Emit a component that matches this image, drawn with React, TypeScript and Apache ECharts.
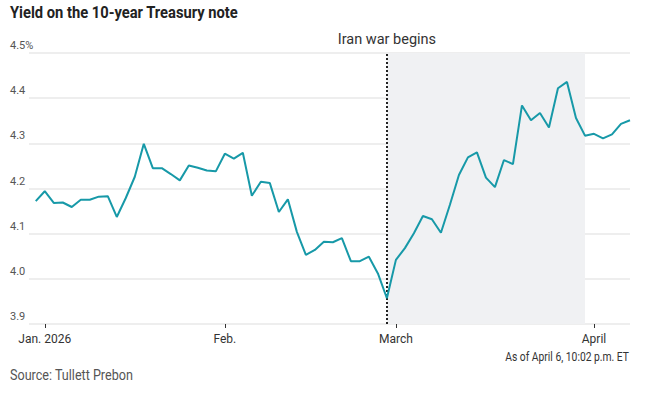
import React, { useEffect, useRef } from "react";
import * as echarts from "echarts";

const FONT = "Roboto, 'Noto Sans', sans-serif";

const TITLE = "Yield on the 10-year Treasury note";
const SOURCE = "Source: Tullett Prebon";
const AS_OF = "As of April 6, 10:02 p.m. ET";
const EVENT_LABEL = "Iran war begins";

// Trading days (the x-axis is spaced by trading day)
const dates: string[] = [
  "2025-12-31",
  "2026-01-02", "2026-01-05", "2026-01-06", "2026-01-07", "2026-01-08", "2026-01-09",
  "2026-01-12", "2026-01-13", "2026-01-14", "2026-01-15", "2026-01-16",
  "2026-01-20", "2026-01-21", "2026-01-22", "2026-01-23",
  "2026-01-26", "2026-01-27", "2026-01-28", "2026-01-29", "2026-01-30",
  "2026-02-02", "2026-02-03", "2026-02-04", "2026-02-05", "2026-02-06",
  "2026-02-09", "2026-02-10", "2026-02-11", "2026-02-12", "2026-02-13",
  "2026-02-17", "2026-02-18", "2026-02-19", "2026-02-20",
  "2026-02-23", "2026-02-24", "2026-02-25", "2026-02-26", "2026-02-27",
  "2026-03-02", "2026-03-03", "2026-03-04", "2026-03-05", "2026-03-06",
  "2026-03-09", "2026-03-10", "2026-03-11", "2026-03-12", "2026-03-13",
  "2026-03-16", "2026-03-17", "2026-03-18", "2026-03-19", "2026-03-20",
  "2026-03-23", "2026-03-24", "2026-03-25", "2026-03-26", "2026-03-27",
  "2026-03-30", "2026-03-31",
  "2026-04-01", "2026-04-02", "2026-04-03", "2026-04-06", "2026-04-06 22:02",
];

// 10-year Treasury yield, %
const yields: number[] = [
  4.172,
  4.194, 4.168, 4.169, 4.159, 4.175, 4.175,
  4.182, 4.183, 4.137, 4.179, 4.226,
  4.299, 4.245, 4.245, 4.232,
  4.218, 4.251, 4.246, 4.240, 4.238,
  4.277, 4.266, 4.279, 4.184, 4.215,
  4.212, 4.148, 4.176, 4.104, 4.053,
  4.064, 4.082, 4.081, 4.090,
  4.039, 4.039, 4.049, 4.012, 3.957,
  4.042, 4.068, 4.101, 4.139, 4.132,
  4.102, 4.164, 4.230, 4.269, 4.280,
  4.224, 4.203, 4.263, 4.254, 4.384,
  4.351, 4.367, 4.335, 4.422, 4.436,
  4.356, 4.317,
  4.321, 4.311, 4.320, 4.343, 4.351,
];

const monthTicks = [
  { date: "2026-01-02", label: "Jan. 2026" },
  { date: "2026-02-02", label: "Feb." },
  { date: "2026-03-02", label: "March" },
  { date: "2026-04-01", label: "April" },
];

const EVENT_START = "2026-02-27";
const SHADE_END = "2026-03-31";

const Y_MIN = 3.9;
const Y_MAX = 4.5;
const Y_STEP = 0.1;

export default function App() {
  const ref = useRef<HTMLDivElement>(null);

  useEffect(() => {
    document.body.style.margin = "0";
    if (!ref.current) return;
    const chart = echarts.init(ref.current, undefined, { renderer: "svg" });

    const tickIdx = monthTicks.map((m) => dates.indexOf(m.date));
    const labelByIdx: Record<number, string> = {};
    monthTicks.forEach((m, i) => (labelByIdx[tickIdx[i]] = m.label));
    const eventIdx = dates.indexOf(EVENT_START);
    const shadeEndIdx = dates.indexOf(SHADE_END);

    chart.setOption({
      animation: false,
      grid: { left: 29, right: 16, top: 53, bottom: 70, containLabel: false },
      xAxis: {
        type: "value",
        min: -0.75,
        max: dates.length - 1,
        axisLine: { show: false },
        splitLine: { show: false },
        axisTick: {
          show: true,
          customValues: tickIdx,
          length: 4,
          lineStyle: { color: "#333", width: 1 },
        },
        axisLabel: {
          customValues: tickIdx,
          formatter: (v: number) => labelByIdx[Math.round(v)] ?? "",
          color: "#333",
          fontSize: 12,
          fontFamily: FONT,
          margin: 9,
        },
      },
      yAxis: {
        type: "value",
        min: Y_MIN,
        max: Y_MAX,
        interval: Y_STEP,
        axisLine: { show: false },
        axisTick: { show: false },
        splitLine: { lineStyle: { color: "#e8e8e8", width: 1.5 } },
        axisLabel: {
          formatter: (v: number) =>
            Math.abs(v - Y_MAX) < 1e-6 ? v.toFixed(1) + "%" : v.toFixed(1),
          color: "#555",
          fontSize: 11,
          fontFamily: FONT,
          align: "left",
          verticalAlign: "bottom",
          margin: 19,
          padding: [0, 0, 2, 0],
        },
      },
      series: [
        {
          type: "line",
          data: yields.map((v, i) => [i, v]),
          showSymbol: false,
          symbol: "none",
          lineStyle: { color: "#1799a8", width: 2 },
          itemStyle: { color: "#1799a8" },
          z: 5,
          markArea: {
            silent: true,
            itemStyle: { color: "#f0f1f3" },
            data: [[{ xAxis: eventIdx }, { xAxis: shadeEndIdx }]],
          },
          markLine: {
            silent: true,
            symbol: "none",
            lineStyle: { type: "dotted", color: "#222", width: 2 },
            label: {
              show: true,
              position: "end",
              formatter: EVENT_LABEL,
              color: "#333",
              fontSize: 14.5,
              fontFamily: FONT,
              distance: 6,
            },
            data: [{ xAxis: eventIdx }],
          },
        },
      ],
      graphic: [
        {
          type: "text",
          x: 10,
          y: 13,
          scaleX: 0.92,
          style: {
            text: TITLE,
            fill: "#222",
            font: `bold 16px ${FONT}`,
            align: "left",
            verticalAlign: "middle",
          },
        },
        {
          type: "text",
          x: 629,
          y: 357,
          scaleX: 0.86,
          style: {
            text: AS_OF,
            fill: "#333",
            font: `12px ${FONT}`,
            align: "right",
            verticalAlign: "middle",
          },
        },
        {
          type: "text",
          x: 10,
          y: 375,
          scaleX: 0.9,
          style: {
            text: SOURCE,
            fill: "#555",
            font: `14px ${FONT}`,
            align: "left",
            verticalAlign: "middle",
          },
        },
      ],
    });

    return () => chart.dispose();
  }, []);

  return <div ref={ref} style={{ width: 646, height: 394 }} />;
}
